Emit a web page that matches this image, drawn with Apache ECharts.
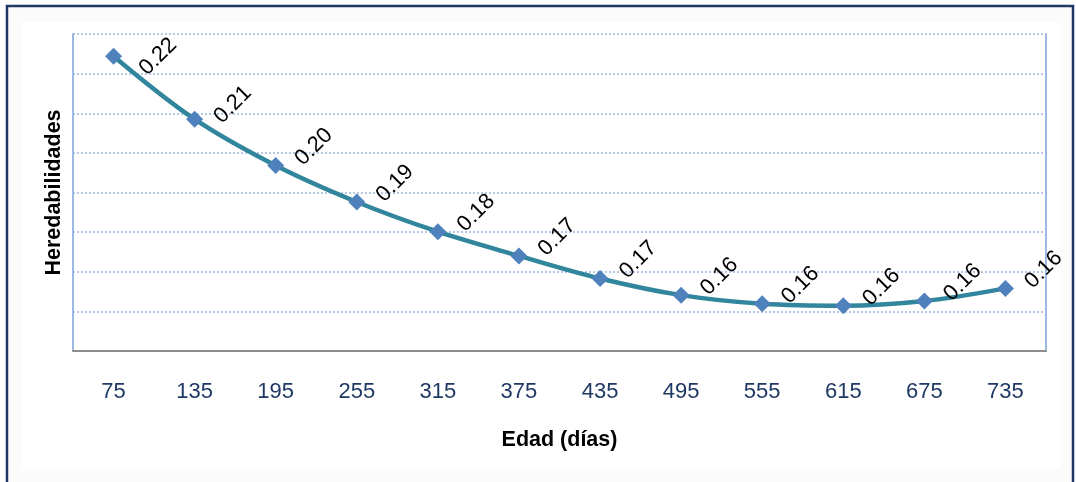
<!DOCTYPE html>
<html>
<head>
<meta charset="utf-8">
<script src="https://cdn.jsdelivr.net/npm/echarts@6/dist/echarts.min.js"></script>
<style>
html,body{margin:0;padding:0;background:#fff;}
#c{width:1076px;height:482px;}
</style>
</head>
<body>
<div id="c"></div>
<script>
const categories = ['75','135','195','255','315','375','435','495','555','615','675','735'];
const heredabilidades = [0.2234, 0.2075, 0.1958, 0.1866, 0.1791, 0.1730, 0.1673, 0.1631, 0.1609, 0.1604, 0.1616, 0.1648];
const yMin = 0.149, yMax = 0.229, yStep = 0.01;
const xTitle = 'Edad (días)';
const yTitle = 'Heredabilidades';

const labelOffsets = {0: [1, 23], 1: [7, 8]};
const seriesData = heredabilidades.map((v, i) =>
  labelOffsets[i] ? {value: v, label: {offset: labelOffsets[i]}} : v);

const chart = echarts.init(document.getElementById('c'), null, {renderer:'canvas'});
chart.setOption({
  animation:false,
  backgroundColor:'#ffffff',
  graphic:[
    {type:'rect', z:-10, silent:true, shape:{x:7, y:6, width:1066, height:490},
     style:{fill:'#fbfbfb', stroke:'#1F3864', lineWidth:2.5}},
    {type:'rect', z:-9, silent:true, shape:{x:22, y:22, width:1038, height:446},
     style:{fill:'#ffffff', stroke:null}}
  ],
  grid:{left:73, right:30, top:34, bottom:131, containLabel:false},
  xAxis:{
    type:'category', data:categories, boundaryGap:true,
    axisLine:{show:true, lineStyle:{color:'#8C8C8C', width:2}},
    axisTick:{show:false},
    axisLabel:{color:'#1F3864', fontSize:22, fontFamily:'Liberation Sans', margin:30},
    splitLine:{show:false},
    name:xTitle, nameLocation:'middle', nameGap:78,
    nameTextStyle:{color:'#000', fontSize:21.5, fontWeight:'bold', fontFamily:'Liberation Sans'}
  },
  yAxis:[{
    type:'value', min:yMin, max:yMax, interval:yStep,
    axisLine:{show:true, lineStyle:{color:'#9DB9E0', width:2}},
    axisTick:{show:false},
    axisLabel:{show:false},
    splitLine:{show:true, lineStyle:{color:'#B4C8E6', width:2, type:[2,2]}},
    name:yTitle, nameLocation:'middle', nameGap:8, nameRotate:90,
    nameTextStyle:{color:'#000', fontSize:21.5, fontWeight:'bold', fontFamily:'Liberation Sans'}
  },{
    type:'value', min:yMin, max:yMax, interval:yStep, position:'right',
    axisLine:{show:true, lineStyle:{color:'#9DB9E0', width:2}},
    axisTick:{show:false}, axisLabel:{show:false}, splitLine:{show:false}
  }],
  series:[{
    type:'line', data:seriesData, smooth:0.35,
    symbol:'diamond', symbolSize:17,
    lineStyle:{color:'#31859C', width:4.5},
    itemStyle:{color:'#4F81BD'},
    label:{show:true, position:'right', rotate:45, distance:4, offset:[10,5],
      color:'#000', fontSize:22, fontFamily:'Liberation Sans',
      formatter:p=>p.value.toFixed(2)}
  }]
});
</script>
</body>
</html>
